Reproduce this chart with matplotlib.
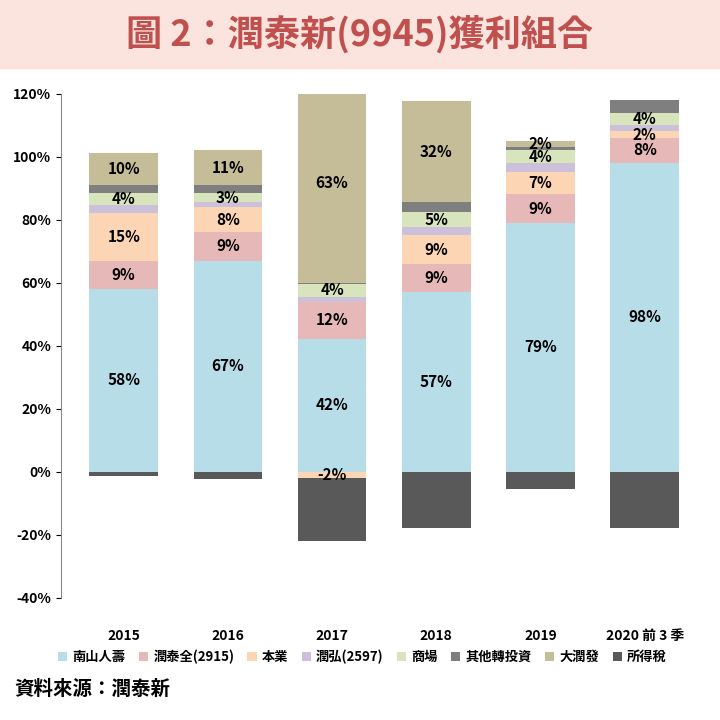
import numpy as np
import matplotlib
matplotlib.use("Agg")
import matplotlib.pyplot as plt

plt.rcParams["font.family"] = ["Noto Sans CJK JP", "Noto Sans CJK TC", "Noto Sans CJK SC", "DejaVu Sans"]

years = ["2015", "2016", "2017", "2018", "2019", "2020 前 3 季"]
nanshan = [58, 67, 42, 57, 79, 98]
runtaiquan = [9, 9, 12, 9, 9, 8]
core = [15, 8, -2, 9, 7, 2]
runhong = [2.5, 1.5, 1.5, 2.5, 3, 2]
mall = [4, 3, 4, 5, 4, 4]
other = [2.5, 2.5, 0.5, 3, 1, 4]
rtmart = [10, 11, 63, 32, 2, 0]
tax = [-1.5, -2.5, -20, -18, -5.5, -18]

series = [
    ("南山人壽", nanshan, "#b7dde8", True),
    ("潤泰全(2915)", runtaiquan, "#e6b9b8", True),
    ("本業", core, "#fcd5b4", True),
    ("潤弘(2597)", runhong, "#ccc0da", False),
    ("商場", mall, "#d8e4bc", True),
    ("其他轉投資", other, "#7f7f7f", False),
    ("大潤發", rtmart, "#c4bd97", True),
    ("所得稅", tax, "#595959", False),
]

fig = plt.figure(figsize=(7.2, 7.2), dpi=100, facecolor="white")
fig.patches.append(plt.Rectangle((0, 0.905), 1, 0.095, transform=fig.transFigure,
                                 color="#fbe3de", zorder=0))
fig.text(0.5, 0.952, "圖 2：潤泰新(9945)獲利組合", ha="center", va="center",
         fontsize=26, fontweight="bold", color="#c0504d")

ax = fig.add_axes([0.085, 0.17, 0.89, 0.70])
x = np.arange(len(years))
pos = np.zeros(len(years))
neg = np.zeros(len(years))
w = 0.66
for name, vals, col, lab in series:
    v = np.array(vals, dtype=float)
    bottom = np.where(v >= 0, pos, neg)
    ax.bar(x, v, w, bottom=bottom, color=col, label=name, zorder=2)
    if lab:
        for i, val in enumerate(v):
            if val != 0:
                ax.text(x[i], bottom[i] + val / 2, f"{val:.0f}%", ha="center", va="center",
                        fontsize=11, fontweight="bold", color="black", zorder=3)
    pos = np.where(v >= 0, pos + v, pos)
    neg = np.where(v < 0, neg + v, neg)

ax.set_ylim(-40, 120)
ax.set_xlim(-0.6, len(years) - 0.45)
ax.set_yticks(range(-40, 121, 20))
ax.set_yticklabels([f"{t}%" for t in range(-40, 121, 20)], fontsize=10, fontweight="bold")
ax.set_xticks(x)
ax.set_xticklabels(years, fontsize=10, fontweight="bold")
ax.tick_params(axis="x", length=0, pad=0)
for s in ["top", "right", "bottom"]:
    ax.spines[s].set_visible(False)
ax.spines["left"].set_color("#888888")
ax.xaxis.set_tick_params(pad=8)
for lbl in ax.get_xticklabels():
    lbl.set_y(-0.04)

ax.legend(loc="upper center", bbox_to_anchor=(0.47, -0.08), ncol=8, frameon=False,
          handlelength=0.7, handleheight=0.7, columnspacing=1.0,
          handletextpad=0.4, prop={"weight": "bold", "size": 9.5})

fig.text(0.02, 0.035, "資料來源：潤泰新", fontsize=14, fontweight="bold")
fig.savefig("out.png", dpi=100)
